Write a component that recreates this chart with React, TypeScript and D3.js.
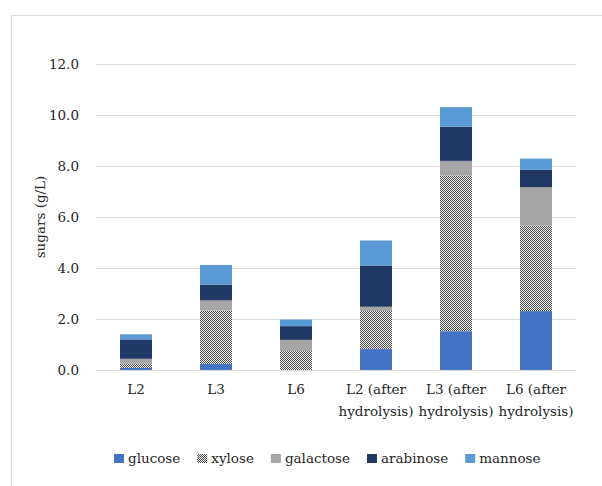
import { useRef, useEffect } from 'react';
import * as d3 from 'd3';

const categories = ['L2', 'L3', 'L6', 'L2 (after hydrolysis)', 'L3 (after hydrolysis)', 'L6 (after hydrolysis)'];
const glucose = [0.08, 0.24, 0.0, 0.82, 1.52, 2.31];
const xylose = [0.18, 2.09, 0.74, 1.49, 6.11, 3.36];
const galactose = [0.18, 0.4, 0.44, 0.17, 0.57, 1.5];
const arabinose = [0.76, 0.62, 0.54, 1.62, 1.34, 0.68];
const mannose = [0.2, 0.77, 0.26, 0.98, 0.77, 0.44];
const seriesNames = ['glucose', 'xylose', 'galactose', 'arabinose', 'mannose'];
const yTicks = [0, 2, 4, 6, 8, 10, 12];

const W = 602;
const H = 486;
const FONT = '"DejaVu Serif", "Liberation Serif", serif';
const COLORS: Record<string, string> = {
  glucose: '#4472c4',
  xylose: 'url(#xylosePattern)',
  galactose: '#a5a5a5',
  arabinose: '#203864',
  mannose: '#5b9bd5',
};

export default function App() {
  const svgRef = useRef<SVGSVGElement>(null);

  useEffect(() => {
    const svg = svgRef.current;
    if (!svg) return;
    const root = d3.select(svg);
    root.selectAll('*').remove();

    // pattern for xylose
    const defs = root.append('defs');
    const pat = defs.append('pattern').attr('id', 'xylosePattern')
      .attr('patternUnits', 'userSpaceOnUse').attr('width', 2).attr('height', 2);
    pat.append('rect').attr('width', 2).attr('height', 2).attr('fill', '#f0f0f0');
    pat.append('rect').attr('x', 0).attr('y', 0).attr('width', 1).attr('height', 1).attr('fill', '#4a4a4a');
    pat.append('rect').attr('x', 1).attr('y', 1).attr('width', 1).attr('height', 1).attr('fill', '#4a4a4a');

    // frame
    root.append('path').attr('d', `M11.5,${H} L11.5,15.5 L${W},15.5`)
      .attr('fill', 'none').attr('stroke', '#d9d9d9').attr('stroke-width', 1);

    const x = d3.scaleBand<string>().domain(categories).range([96, 576]).paddingInner(0.6).paddingOuter(0.3);
    const y = d3.scaleLinear().domain([0, 12]).range([370, 64]);

    // grid
    yTicks.forEach(t => {
      root.append('line').attr('x1', 96).attr('x2', 576)
        .attr('y1', y(t) + 0.5).attr('y2', y(t) + 0.5)
        .attr('stroke', '#d9d9d9').attr('stroke-width', 1);
      root.append('text').attr('x', 79).attr('y', y(t) + 5)
        .attr('text-anchor', 'end').attr('font-family', FONT).attr('font-size', '13.5px')
        .attr('fill', '#262626').text(d3.format('.1f')(t));
    });

    // stacked bars
    const rows = categories.map((c, i) => ({
      cat: c,
      glucose: glucose[i],
      xylose: xylose[i],
      galactose: galactose[i],
      arabinose: arabinose[i],
      mannose: mannose[i],
    }));
    const stack = d3.stack<any>().keys(seriesNames);
    const layers = stack(rows);
    layers.forEach(layer => {
      root.append('g').selectAll('rect').data(layer).join('rect')
        .attr('x', d => x(d.data.cat)!)
        .attr('width', x.bandwidth())
        .attr('y', d => y(d[1]))
        .attr('height', d => Math.max(0, y(d[0]) - y(d[1])))
        .attr('fill', COLORS[layer.key]);
    });

    // x labels
    categories.forEach(c => {
      const cx = x(c)! + x.bandwidth() / 2;
      const idx = c.lastIndexOf(' ');
      const lines = c.length > 8 && idx > 0 ? [c.slice(0, idx), c.slice(idx + 1)] : [c];
      lines.forEach((ln, li) => {
        root.append('text').attr('x', cx).attr('y', 394 + li * 22)
          .attr('text-anchor', 'middle').attr('font-family', FONT).attr('font-size', '13.5px')
          .attr('fill', '#262626').text(ln);
      });
    });

    // y label
    root.append('text').attr('transform', `translate(45,217) rotate(-90)`)
      .attr('text-anchor', 'middle').attr('font-family', FONT).attr('font-size', '13.5px')
      .attr('fill', '#262626').text('sugars (g/L)');

    // legend
    let lx = 114;
    seriesNames.forEach(name => {
      root.append('rect').attr('x', lx).attr('y', 454).attr('width', 10).attr('height', 9)
        .attr('fill', COLORS[name]);
      const t = root.append('text').attr('x', lx + 14).attr('y', 463)
        .attr('font-family', FONT).attr('font-size', '13.5px').attr('fill', '#262626').text(name);
      const tw = (t.node() as SVGTextElement).getComputedTextLength();
      lx += 14 + tw + 17;
    });
  }, []);

  return (
    <div style={{ position: 'absolute', left: 0, top: 0, width: W, height: H, background: '#fff' }}>
      <svg ref={svgRef} width={W} height={H} style={{ display: 'block' }} />
    </div>
  );
}
